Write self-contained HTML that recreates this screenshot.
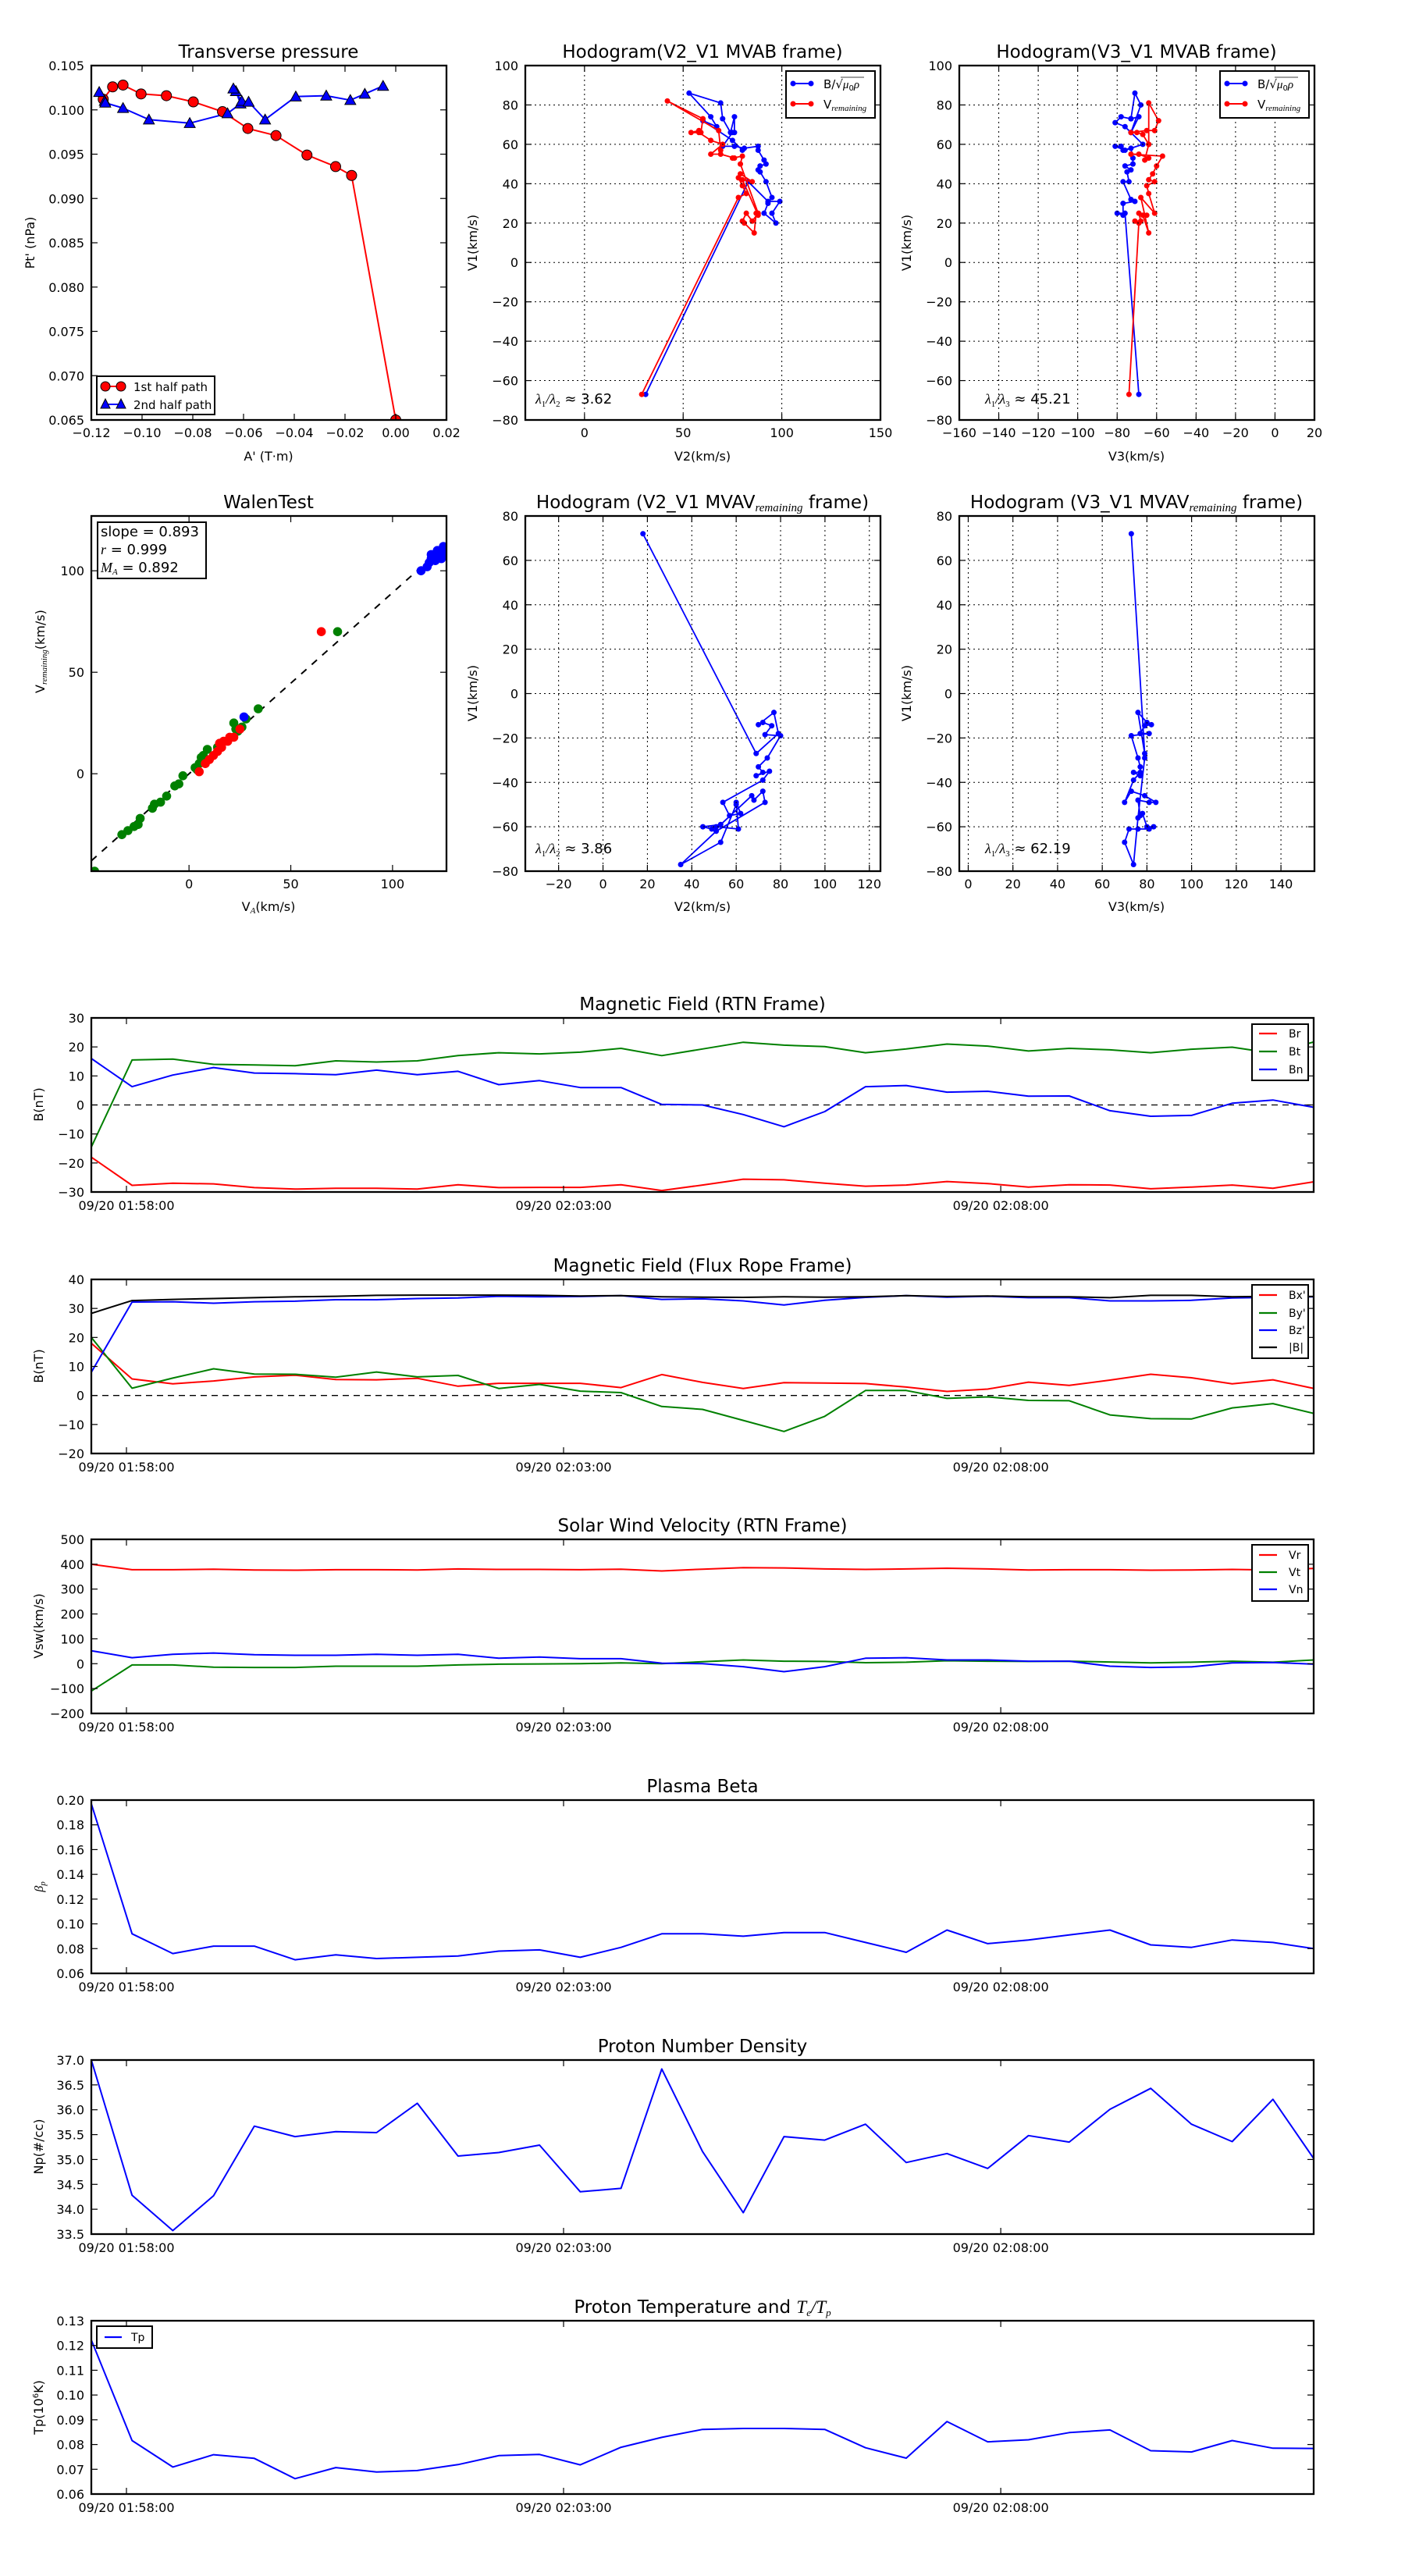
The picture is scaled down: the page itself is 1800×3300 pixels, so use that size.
<!DOCTYPE html>
<html><head><meta charset="utf-8"><style>
html,body{margin:0;padding:0;background:#fff;}
svg{display:block;}
</style></head><body>
<svg id="s" xmlns="http://www.w3.org/2000/svg" width="1800" height="3300" viewBox="0 0 1800 3300"><rect width="1800" height="3300" fill="#fff"/></svg>
<script>
const NS='http://www.w3.org/2000/svg';const S=document.getElementById('s');
const FF='"DejaVu Sans","Liberation Sans",sans-serif';
let cid=0;
function el(t,a,p){const e=document.createElementNS(NS,t);for(const k in a)e.setAttribute(k,a[k]);(p||S).appendChild(e);return e;}
function tx(x,y,s,a,p){const e=el('text',Object.assign({x:x,y:y,'font-family':FF,'font-size':16,fill:'#000'},a||{}),p);if(s!==null)e.textContent=s;return e;}
function ts(e,s,a){const t=el('tspan',a||{},e);t.textContent=s;return t;}
function mlab(v){return String(v).replace('-','\u2212');}
function panel(c){
 const X=v=>c.x+(v-c.xr[0])/(c.xr[1]-c.xr[0])*c.w;
 const Y=v=>c.y+c.h-(v-c.yr[0])/(c.yr[1]-c.yr[0])*c.h;
 const id='c'+(cid++);
 const cp=el('clipPath',{id:id});el('rect',{x:c.x,y:c.y,width:c.w,height:c.h},cp);
 const g=el('g',{'clip-path':'url(#'+id+')'});
 const fs=c.fs||16;
 (c.xt||[]).forEach(t=>{const px=X(t[0]);
  if(c.grid)el('line',{x1:px,x2:px,y1:c.y,y2:c.y+c.h,stroke:'#000','stroke-width':1,'stroke-dasharray':'2,4'});
  el('line',{x1:px,x2:px,y1:c.y+c.h,y2:c.y+c.h-8,stroke:'#000','stroke-width':1.2});
  el('line',{x1:px,x2:px,y1:c.y,y2:c.y+8,stroke:'#000','stroke-width':1.2});
  tx(px,c.y+c.h+(c.xtOff||22),t[1],{'text-anchor':'middle','font-size':fs});});
 (c.yt||[]).forEach(t=>{const py=Y(t[0]);
  if(c.grid)el('line',{x1:c.x,x2:c.x+c.w,y1:py,y2:py,stroke:'#000','stroke-width':1,'stroke-dasharray':'2,4'});
  el('line',{x1:c.x,x2:c.x+8,y1:py,y2:py,stroke:'#000','stroke-width':1.2});
  el('line',{x1:c.x+c.w,x2:c.x+c.w-8,y1:py,y2:py,stroke:'#000','stroke-width':1.2});
  tx(c.x-9,py+6,t[1],{'text-anchor':'end','font-size':fs});});
 return {X,Y,g,c,frame:()=>el('rect',{x:c.x,y:c.y,width:c.w,height:c.h,fill:'none',stroke:'#000','stroke-width':2.3})};
}
function line(P,pts,col,w,dash){const a={points:pts.map(p=>P.X(p[0]).toFixed(1)+','+P.Y(p[1]).toFixed(1)).join(' '),fill:'none',stroke:col,'stroke-width':w||1.8,'stroke-linejoin':'round'};if(dash)a['stroke-dasharray']=dash;el('polyline',a,P.g);}
function dots(P,pts,col,r,stroke){pts.forEach(p=>el('circle',{cx:P.X(p[0]),cy:P.Y(p[1]),r:r,fill:col,stroke:stroke||'none','stroke-width':1},P.g));}
function tris(P,pts,col,r){pts.forEach(p=>{const x=P.X(p[0]),y=P.Y(p[1]);el('polygon',{points:`${x},${y-r} ${x-r},${y+r*0.8} ${x+r},${y+r*0.8}`,fill:col,stroke:'#000','stroke-width':1},P.g);});}
function rng(a,b,s,f){const r=[];for(let v=a;v<=b+1e-9;v+=s){const vv=Math.round(v*1e6)/1e6;r.push([vv,mlab(f?vv.toFixed(f):vv)]);}return r;}
function ylab(x,y,s){return tx(x,y,s,{'text-anchor':'middle',transform:`rotate(-90 ${x} ${y})`});}

/* ---------- Row 1 ---------- */
// Transverse pressure
let P=panel({x:117,y:84,w:455,h:454,xr:[-0.12,0.02],yr:[0.065,0.105],xt:rng(-0.12,0.02,0.02,2),yt:rng(0.065,0.105,0.005,3)});
const red1=[[-0.1153,0.1012],[-0.1116,0.1026],[-0.1075,0.1028],[-0.1004,0.1018],[-0.0904,0.1016],[-0.0798,0.1009],[-0.0683,0.0998],[-0.0583,0.0979],[-0.0472,0.0971],[-0.0350,0.0949],[-0.0237,0.0936],[-0.0174,0.0926],[0.0,0.065]];
const blue1=[[-0.1169,0.1020],[-0.1147,0.1010],[-0.1145,0.1008],[-0.1075,0.1002],[-0.0973,0.0989],[-0.0812,0.0985],[-0.0663,0.0996],[-0.0612,0.1007],[-0.063,0.1021],[-0.064,0.1024],[-0.0607,0.1010],[-0.058,0.1009],[-0.0515,0.0989],[-0.0394,0.1015],[-0.0274,0.1016],[-0.0179,0.1011],[-0.0122,0.1018],[-0.0050,0.1027]];
line(P,red1,'#f00',2);line(P,blue1,'#00f',2);
dots(P,red1,'#f00',6.5,'#000');tris(P,blue1,'#00f',7);
P.frame();
tx(344,74,'Transverse pressure',{'text-anchor':'middle','font-size':23});
tx(344,590,'A\' (T\u00b7m)',{'text-anchor':'middle'});
ylab(44,311,'Pt\' (nPa)');
el('rect',{x:124,y:482,width:151,height:49,fill:'#fff',stroke:'#000','stroke-width':2});
el('line',{x1:135,x2:155,y1:495,y2:495,stroke:'#f00','stroke-width':2});
el('circle',{cx:135,cy:495,r:6,fill:'#f00',stroke:'#000'});el('circle',{cx:155,cy:495,r:6,fill:'#f00',stroke:'#000'});
el('line',{x1:135,x2:155,y1:518,y2:518,stroke:'#00f','stroke-width':2});
el('polygon',{points:'135,511 129,523 141,523',fill:'#00f',stroke:'#000'});el('polygon',{points:'155,511 149,523 161,523',fill:'#00f',stroke:'#000'});
tx(171,501,'1st half path',{'font-size':15});tx(171,524,'2nd half path',{'font-size':15});

function lam(x,y,a,b,val){const t=tx(x,y,null,{'font-size':18});
 ts(t,'\u03bb',{'font-family':'"Liberation Serif",serif','font-style':'italic'});ts(t,a,{'font-size':11,dy:4,'font-family':'"Liberation Serif",serif'});
 ts(t,'/',{dy:-4,'font-family':'"Liberation Serif",serif','font-style':'italic'});ts(t,'\u03bb',{'font-family':'"Liberation Serif",serif','font-style':'italic'});ts(t,b,{'font-size':11,dy:4,'font-family':'"Liberation Serif",serif'});
 ts(t,' \u2248 '+val,{dy:-4});}
function hlegend(x0,x1){el('rect',{x:x0,y:91,width:x1-x0,height:60,fill:'#fff',stroke:'#000','stroke-width':2});
 el('line',{x1:x0+9,x2:x0+32,y1:107,y2:107,stroke:'#00f','stroke-width':2});dots({X:v=>v,Y:v=>v,g:S},[[x0+9,107],[x0+32,107]],'#00f',3.5);
 el('line',{x1:x0+9,x2:x0+32,y1:133,y2:133,stroke:'#f00','stroke-width':2});dots({X:v=>v,Y:v=>v,g:S},[[x0+9,133],[x0+32,133]],'#f00',3.5);
 const t=tx(x0+48,113,'B/\u221a',{'font-size':15});ts(t,'\u03bc',{'font-family':'"Liberation Serif",serif','font-style':'italic'});ts(t,'0',{'font-size':10,dy:3});ts(t,'\u03c1',{dy:-3,'font-family':'"Liberation Serif",serif','font-style':'italic'});
 el('line',{x1:x0+70,x2:x0+100,y1:99,y2:99,stroke:'#000','stroke-width':0.8});
 const t2=tx(x0+48,139,'V',{'font-size':15});ts(t2,'remaining',{'font-size':11,dy:3,'font-family':'"Liberation Serif",serif','font-style':'italic'});}

// Hodogram V2_V1 MVAB
P=panel({x:673,y:84,w:455,h:454,xr:[-30,150],yr:[-80,100],xt:rng(0,150,50),yt:rng(-80,100,20),grid:true});
const b2=[[31,-67],[83,41],[93,31],[99,31],[95,25],[97,20],[91,25],[93,30],[95,33],[92,41],[89,46],[88,47],[89,49],[92,50],[91,52],[88,57],[88,59],[81,58],[76,59],[70,59],[75,66],[76,66],[76,74],[74,66],[70,73],[69,81],[53,86],[64,74],[67,69],[60,72],[75,62],[80,57]];
const r2=[[29,-67],[78,33],[82,35],[80,39],[78,43],[79,45],[85,41],[80,42],[88,24],[87,25],[86,15],[81,20],[80,21],[82,25],[85,21],[88,25],[79,50],[80,54],[75,53],[76,53],[69,55],[64,55],[70,60],[64,62],[58,66],[54,66],[58,67],[59,66],[60,73],[42,82],[68,67],[69,57]];
line(P,b2,'#00f');dots(P,b2,'#00f',3.5);line(P,r2,'#f00');dots(P,r2,'#f00',3.5);
P.frame();hlegend(1007,1121);lam(686,517,'1','2','3.62');
tx(900,74,'Hodogram(V2_V1 MVAB frame)',{'text-anchor':'middle','font-size':23});
tx(900,590,'V2(km/s)',{'text-anchor':'middle'});ylab(611,311,'V1(km/s)');

// Hodogram V3_V1 MVAB
P=panel({x:1229,y:84,w:455,h:454,xr:[-160,20],yr:[-80,100],xt:rng(-160,20,20),yt:rng(-80,100,20),grid:true});
const b3=[[-69,-67],[-76,25],[-80,25],[-77,24],[-77,30],[-71,31],[-73,32],[-77,41],[-74,41],[-75,46],[-73,47],[-76,49],[-72,50],[-72,53],[-73,58],[-77,57],[-78,59],[-81,59],[-76,57],[-67,60],[-73,66],[-76,69],[-81,71],[-78,74],[-73,73],[-69,74],[-73,66],[-68,80],[-71,86],[-73,73]];
const r3=[[-74,-67],[-69,20],[-71,21],[-68,21],[-69,25],[-65,24],[-67,24],[-64,15],[-68,33],[-61,25],[-64,35],[-65,39],[-61,41],[-64,42],[-62,45],[-60,49],[-57,54],[-73,55],[-69,55],[-64,53],[-66,52],[-64,60],[-67,65],[-70,66],[-73,66],[-65,67],[-61,67],[-59,72],[-64,81],[-64,60]];
line(P,b3,'#00f');dots(P,b3,'#00f',3.5);line(P,r3,'#f00');dots(P,r3,'#f00',3.5);
P.frame();hlegend(1563,1677);lam(1262,517,'1','3','45.21');
tx(1456,74,'Hodogram(V3_V1 MVAB frame)',{'text-anchor':'middle','font-size':23});
tx(1456,590,'V3(km/s)',{'text-anchor':'middle'});ylab(1167,311,'V1(km/s)');

/* ---------- Row 2 ---------- */
P=panel({x:117,y:661,w:455,h:455,xr:[-48,126.5],yr:[-48,127],xt:rng(0,100,50),yt:rng(0,100,50)});
line(P,[[-48,-42.9],[126.5,112.9]],'#000',2,'9,9');
const wg=[[-46.4,-48],[-33,-30],[-30,-28],[-27,-26],[-25,-25],[-24,-22],[-18,-17],[-17,-15],[-14,-14],[-11,-11],[-7,-6],[-5,-5],[-3,-1],[3,3],[5,5],[6,8],[8,7],[9,12],[14,13],[22,25],[23,22],[24,21],[26,23],[28,27],[34,32],[73,70],[4,2],[7,9]];
const wr=[[5,1],[8,5],[10,7],[12,9],[14,11],[16,13],[17,16],[19,16],[20,18],[22,18],[25,22],[15,15],[65,70]];
const wb=[[27,28],[114,100],[117,102],[118,104],[119,106],[120,107],[121,105],[122,108],[123,109],[124,110],[125,111],[126,108],[124,106],[119,108],[122,110],[125,112]];
dots(P,wg,'#008000',5.8);dots(P,wr,'#f00',5.8);dots(P,wb,'#00f',5.8);
P.frame();
tx(344,651,'WalenTest',{'text-anchor':'middle','font-size':23});
{const t=tx(344,1167,'V',{'text-anchor':'middle'});ts(t,'A',{'font-size':11,dy:3,'font-family':'"Liberation Serif",serif','font-style':'italic'});ts(t,'(km/s)',{dy:-3});}
{const t=tx(57,888,'V',{transform:'rotate(-90 57 888)'});ts(t,'remaining',{'font-size':11,dy:3,'font-family':'"Liberation Serif",serif','font-style':'italic'});ts(t,'(km/s)',{dy:-3});}
el('rect',{x:125,y:669,width:139,height:72,fill:'#fff',stroke:'#000','stroke-width':2});
tx(129,687,'slope = 0.893',{'font-size':18});
{const t=tx(129,710,null,{'font-size':18});ts(t,'r',{'font-family':'"Liberation Serif",serif','font-style':'italic'});ts(t,' = 0.999');}
{const t=tx(129,733,null,{'font-size':18});ts(t,'M',{'font-family':'"Liberation Serif",serif','font-style':'italic'});ts(t,'A',{'font-size':11,dy:3,'font-family':'"Liberation Serif",serif','font-style':'italic'});ts(t,' = 0.892',{dy:-3});}

P=panel({x:673,y:661,w:455,h:455,xr:[-35,125],yr:[-80,80],xt:rng(-20,120,20),yt:rng(-80,80,20),grid:true});
const b5=[[18,72],[69,-27],[79,-18],[77,-8.5],[70,-14],[72,-13],[76,-14.5],[73,-18.5],[80,-19],[74,-29],[70,-33],[72,-35.5],[69,-37],[75,-35],[72,-39],[54,-49],[57,-55],[62,-54],[60,-49],[61,-61],[51,-60],[49,-61],[45,-60],[53,-59],[67,-46],[68,-48],[72,-44],[73,-49],[51,-62],[35,-77],[53,-67],[60,-50]];
line(P,b5,'#00f');dots(P,b5,'#00f',3.5);P.frame();lam(686,1093,'1','2','3.86');
tx(900,651,null,{'text-anchor':'middle','font-size':23});
{const t=S.lastChild;ts(t,'Hodogram (V2_V1 MVAV');ts(t,'remaining',{'font-size':15,dy:4,'font-family':'"Liberation Serif",serif','font-style':'italic'});ts(t,' frame)',{dy:-4});}
tx(900,1167,'V2(km/s)',{'text-anchor':'middle'});ylab(611,888,'V1(km/s)');

P=panel({x:1229,y:661,w:455,h:455,xr:[-4,155],yr:[-80,80],xt:rng(0,140,20),yt:rng(-80,80,20),grid:true});
const b6=[[73,72],[79,-27],[76,-8.5],[80,-13],[82,-14],[79,-14.5],[77,-18],[81,-18],[73,-19],[76,-29],[77,-33],[77,-37],[74,-35.5],[77,-35.5],[74,-39],[70,-49],[73,-44],[79,-46],[84,-49],[81,-49],[76,-48],[77,-55],[78,-54],[80,-60],[83,-60],[81,-61],[76,-61],[72,-61],[70,-67],[74,-77],[76,-56],[79,-29]];
line(P,b6,'#00f');dots(P,b6,'#00f',3.5);P.frame();lam(1262,1093,'1','3','62.19');
tx(1456,651,null,{'text-anchor':'middle','font-size':23});
{const t=S.lastChild;ts(t,'Hodogram (V3_V1 MVAV');ts(t,'remaining',{'font-size':15,dy:4,'font-family':'"Liberation Serif",serif','font-style':'italic'});ts(t,' frame)',{dy:-4});}
tx(1456,1167,'V3(km/s)',{'text-anchor':'middle'});ylab(1167,888,'V1(km/s)');

/* ---------- Time series ---------- */
const XT=[[0.862,'09/20 01:58:00'],[11.59,'09/20 02:03:00'],[22.32,'09/20 02:08:00']];
function ts2(top,yr,yt,title,yl){const p=panel({x:117,y:top,w:1566,h:223,xr:[0,30],yr:yr,xt:XT,yt:yt,xtOff:23});
 tx(900,top-10,title,{'text-anchor':'middle','font-size':23});ylab(55,top+111,yl);return p;}
function ser(P,arr,col){line(P,arr.map((v,i)=>[i,v]),col,2);}
function tlegend(x0,y0,w,h,items,tx0){el('rect',{x:x0,y:y0,width:w,height:h,fill:'#fff',stroke:'#000','stroke-width':2});
 items.forEach(it=>{el('line',{x1:x0+9,x2:x0+32,y1:it[2],y2:it[2],stroke:it[1],'stroke-width':2.2});tx(x0+47,it[2]+5,it[0],{'font-size':14});});}

P=ts2(1304,[-30,30],rng(-30,30,10),'Magnetic Field (RTN Frame)','B(nT)');
line(P,[[0,0],[30,0]],'#000',1.3,'8,6');
ser(P,[-18,-27.7,-27,-27.2,-28.5,-29,-28.7,-28.7,-29,-27.5,-28.5,-28.4,-28.4,-27.5,-29.5,-27.6,-25.6,-25.8,-27,-28,-27.6,-26.4,-27.1,-28.3,-27.5,-27.6,-28.9,-28.3,-27.6,-28.7,-26.5],'#f00');
ser(P,[-14.5,15.5,15.8,14,13.8,13.5,15.2,14.8,15.2,17,18,17.6,18.2,19.5,17,19.3,21.6,20.6,20.1,18,19.3,21,20.3,18.6,19.5,19,18,19.2,19.9,17.8,21.7],'#008000');
ser(P,[16,6.3,10.3,12.9,11,10.8,10.4,12,10.4,11.6,7,8.4,6,6,0.2,0,-3.3,-7.5,-2.3,6.3,6.7,4.4,4.7,3,3.1,-2,-3.9,-3.6,0.6,1.7,-0.8],'#00f');
P.frame();tlegend(1604,1312,72,72,[['Br','#f00',1324],['Bt','#008000',1347],['Bn','#00f',1370]]);

P=ts2(1639,[-20,40],rng(-20,40,10),'Magnetic Field (Flux Rope Frame)','B(nT)');
line(P,[[0,0],[30,0]],'#000',1.3,'8,6');
ser(P,[18,5.7,4,5,6.4,7,5.5,5.4,5.9,3.2,4.2,4.2,4.2,2.7,7.2,4.5,2.4,4.4,4.3,4.1,2.9,1.4,2.2,4.6,3.5,5.3,7.3,6.1,4,5.4,2.4],'#f00');
ser(P,[20,2.5,6,9.2,7.4,7.3,6.3,8.1,6.4,6.9,2.4,3.8,1.5,1,-3.8,-4.8,-8.6,-12.4,-7.2,1.7,1.7,-1,-0.5,-1.7,-1.8,-6.7,-8,-8.1,-4.3,-2.8,-6.2],'#008000');
ser(P,[8,32.2,32.3,31.8,32.3,32.5,33,33,33.4,33.6,34.2,34,34.1,34.4,33.1,33.3,32.6,31.2,32.8,33.8,34.4,33.9,34.2,33.7,33.7,32.6,32.6,32.8,33.6,33.8,34],'#00f');
ser(P,[28.3,32.7,33.1,33.4,33.7,34,34.2,34.5,34.6,34.6,34.6,34.5,34.3,34.4,34,33.9,33.8,34,33.9,34,34.4,34.1,34.3,34,34,33.7,34.5,34.5,34,34.2,34.1],'#000');
P.frame();tlegend(1604,1646,72,94,[['Bx\'','#f00',1659],['By\'','#008000',1682],['Bz\'','#00f',1704],['|B|','#000',1726]]);

P=ts2(1972,[-200,500],rng(-200,500,100),'Solar Wind Velocity (RTN Frame)','Vsw(km/s)');
ser(P,[400,378,378,380,377,376,378,378,377,381,379,379,378,380,373,380,386,385,381,379,381,384,381,377,378,378,376,377,379,377,383],'#f00');
ser(P,[-110,-5,-5,-14,-15,-15,-10,-10,-10,-5,-2,-1,0,3,0,8,15,10,9,4,6,12,10,9,10,7,3,6,10,6,15],'#008000');
ser(P,[52,24,38,43,36,34,34,38,34,38,22,27,20,20,2,0,-12,-32,-12,22,24,15,15,10,10,-10,-15,-13,3,5,-2],'#00f');
P.frame();tlegend(1604,1979,72,72,[['Vr','#f00',1992],['Vt','#008000',2014],['Vn','#00f',2036]]);

P=panel({x:117,y:2306,w:1566,h:222,xr:[0,30],yr:[0.06,0.20],xt:XT,yt:rng(0.06,0.20,0.02,2),xtOff:23});
tx(900,2296,'Plasma Beta',{'text-anchor':'middle','font-size':23});
{const t=tx(55,2417,null,{'text-anchor':'middle',transform:'rotate(-90 55 2417)','font-family':'"Liberation Serif",serif','font-style':'italic'});ts(t,'\u03b2');ts(t,'p',{'font-size':11,dy:3});}
ser(P,[0.197,0.092,0.076,0.082,0.082,0.071,0.075,0.072,0.073,0.074,0.078,0.079,0.073,0.081,0.092,0.092,0.090,0.093,0.093,0.085,0.077,0.095,0.084,0.087,0.091,0.095,0.083,0.081,0.087,0.085,0.080],'#00f');
P.frame();

P=ts2(2639,[33.5,37],rng(33.5,37,0.5,1),'Proton Number Density','Np(#/cc)');
ser(P,[37.0,34.28,33.57,34.27,35.67,35.46,35.56,35.54,36.13,35.07,35.14,35.29,34.35,34.42,36.82,35.16,33.93,35.46,35.39,35.71,34.94,35.12,34.82,35.48,35.35,36.01,36.43,35.71,35.36,36.21,35.02],'#00f');
P.frame();

P=panel({x:117,y:2973,w:1566,h:222,xr:[0,30],yr:[0.06,0.13],xt:XT,yt:rng(0.06,0.13,0.01,2),xtOff:23});
{const t=tx(900,2963,'Proton Temperature and ',{'text-anchor':'middle','font-size':23});ts(t,'T',{'font-family':'"Liberation Serif",serif','font-style':'italic'});ts(t,'e',{'font-size':13,dy:4,'font-family':'"Liberation Serif",serif','font-style':'italic'});ts(t,'/',{dy:-4,'font-family':'"Liberation Serif",serif','font-style':'italic'});ts(t,'T',{'font-family':'"Liberation Serif",serif','font-style':'italic'});ts(t,'p',{'font-size':13,dy:4,'font-family':'"Liberation Serif",serif','font-style':'italic'});}
{const t=tx(55,3084,'Tp(10',{'text-anchor':'middle',transform:'rotate(-90 55 3084)'});ts(t,'6',{'font-size':10,dy:-6});ts(t,'K)',{dy:6});}
ser(P,[0.1222,0.0816,0.0709,0.0759,0.0744,0.0662,0.0707,0.0689,0.0695,0.0719,0.0755,0.076,0.0718,0.0789,0.0829,0.0861,0.0865,0.0865,0.0861,0.0787,0.0745,0.0893,0.0811,0.0819,0.0848,0.0859,0.0775,0.0770,0.0816,0.0785,0.0784],'#00f');
P.frame();
el('rect',{x:124,y:2980,width:71,height:28,fill:'#fff',stroke:'#000','stroke-width':2});
el('line',{x1:134,x2:156,y1:2994,y2:2994,stroke:'#00f','stroke-width':2.2});tx(168,2999,'Tp',{'font-size':14});
</script>
</body></html>
